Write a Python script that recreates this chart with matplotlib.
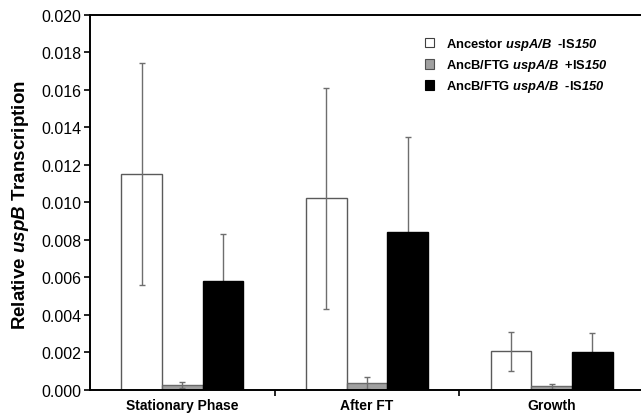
import matplotlib
matplotlib.use("Agg")
import matplotlib.pyplot as plt
import numpy as np
from matplotlib.patches import Patch

plt.rcParams['font.family'] = ['Liberation Sans', 'DejaVu Sans']
plt.rcParams['mathtext.fontset'] = 'custom'
plt.rcParams['mathtext.rm'] = 'Liberation Sans:bold'
plt.rcParams['mathtext.it'] = 'Liberation Sans:bold:italic'
plt.rcParams['mathtext.bf'] = 'Liberation Sans:bold'
plt.rcParams['mathtext.sf'] = 'Liberation Sans:bold:italic'

categories = ["Stationary Phase", "After FT", "Growth"]
series_names = ["Ancestor $\\mathsf{uspA/B}$  -IS$\\mathsf{150}$",
                "AncB/FTG $\\mathsf{uspA/B}$  +IS$\\mathsf{150}$",
                "AncB/FTG $\\mathsf{uspA/B}$  -IS$\\mathsf{150}$"]
ancestor = [0.0115, 0.0102, 0.00205]
ancestor_err = [0.0059, 0.0059, 0.00105]
plus_is = [0.00025, 0.00035, 0.00018]
plus_is_err = [0.00017, 0.00033, 0.00012]
minus_is = [0.0058, 0.0084, 0.0020]
minus_is_err = [0.0025, 0.0051, 0.0010]
yticks = [0.000, 0.002, 0.004, 0.006, 0.008, 0.010, 0.012, 0.014, 0.016, 0.018, 0.020]

fig = plt.figure(figsize=(6.41, 4.14), dpi=100)
ax = fig.add_axes([90/641, 1-390.7/414, (644-90)/641, (390.7-15.7)/414])

x = np.arange(len(categories))
w = 0.22
errc = '#6e6e6e'
ekw = dict(ecolor=errc, elinewidth=1.0, capsize=2.5, capthick=1.0)
ax.bar(x - w, ancestor, w, color='white', edgecolor='#5a5a5a', linewidth=1.0,
       yerr=ancestor_err, error_kw=ekw, zorder=2)
ax.bar(x, plus_is, w, color='#a0a0a0', edgecolor='#6a6a6a', linewidth=1.0,
       yerr=plus_is_err, error_kw=ekw, zorder=2)
ax.bar(x + w, minus_is, w, color='black', edgecolor='black', linewidth=1.0, zorder=2)
ax.errorbar(x + w, minus_is, yerr=minus_is_err, fmt='none', zorder=1, **ekw)

ax.set_xlim(-0.5, 2.5)
ax.set_ylim(0, 0.020)
ax.set_yticks(yticks)
ax.set_yticklabels([f"{v:.3f}" for v in yticks], fontsize=11.5)
ax.tick_params(axis='y', direction='out', length=4, width=1.2, pad=2)

ax.set_xticks([0.5, 1.5])
ax.set_xticklabels([])
ax.tick_params(axis='x', which='major', direction='out', length=4, width=1.2)
ax.set_xticks(x, minor=True)
ax.set_xticklabels(categories, minor=True, fontsize=10, fontweight='bold')
ax.tick_params(axis='x', which='minor', length=0, pad=6)

for s in ['left', 'bottom', 'top']:
    ax.spines[s].set_linewidth(1.4)
ax.spines['right'].set_visible(False)

fig.text(21/641, 1-205/414, "Relative $uspB$ Transcription", rotation=90,
         ha='center', va='center', fontsize=13.5, fontweight='bold')

handles = [Patch(facecolor='white', edgecolor='#404040', linewidth=0.8),
           Patch(facecolor='#a0a0a0', edgecolor='#505050', linewidth=0.8),
           Patch(facecolor='black', edgecolor='black', linewidth=0.8)]
leg = fig.legend(handles, series_names, loc='upper left',
                 bbox_to_anchor=(425/641, 1-37/414), frameon=False,
                 prop={'size': 9.3, 'weight': 'bold'},
                 handlelength=0.72, handleheight=0.8, handletextpad=0.9,
                 labelspacing=0.4, borderpad=0, borderaxespad=0)

fig.savefig("out.png", dpi=100)
